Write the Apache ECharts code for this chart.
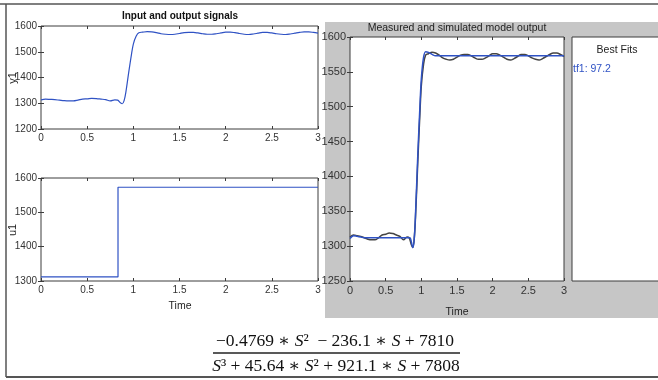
<!DOCTYPE html>
<html>
<head>
<meta charset="utf-8">
<script src="https://cdn.jsdelivr.net/npm/echarts@6/dist/echarts.min.js"></script>
<style>
    html, body { margin: 0; padding: 0; background: #fff; }
    #chart { width: 658px; height: 380px; }
</style>
</head>
<body>
<div id="chart"></div>
<script>
// measured output y1 (same record in both panels)
const measTime = [0, 0.05, 0.1, 0.15, 0.2, 0.25, 0.3, 0.35, 0.4, 0.45, 0.5, 0.55, 0.6, 0.65, 0.7, 0.75, 0.8, 0.83, 0.86, 0.88,
    0.9, 0.92, 0.95, 0.98, 1.0, 1.03, 1.06, 1.1, 1.15, 1.2, 1.25, 1.3, 1.35, 1.4, 1.45, 1.5, 1.55, 1.6, 1.65, 1.7,
    1.75, 1.8, 1.85, 1.9, 1.95, 2.0, 2.05, 2.1, 2.15, 2.2, 2.25, 2.3, 2.35, 2.4, 2.45, 2.5, 2.55, 2.6, 2.65, 2.7,
    2.75, 2.8, 2.85, 2.9, 2.95, 3.0];
const measValues = [1313, 1316, 1315, 1314, 1312, 1310, 1309, 1309, 1312, 1316, 1317, 1319, 1318, 1316, 1314, 1309, 1313, 1312, 1302, 1298,
    1310, 1345, 1420, 1490, 1530, 1560, 1574, 1576, 1578, 1577, 1574, 1570, 1568, 1567, 1568, 1571, 1574, 1575, 1575, 1573,
    1570, 1568, 1568, 1570, 1573, 1576, 1576, 1574, 1571, 1568, 1567, 1569, 1572, 1575, 1575, 1573, 1570, 1568, 1567, 1569,
    1572, 1575, 1577, 1577, 1575, 1572];

// simulated model output tf1
const simTime = [0, 0.05, 0.1, 0.15, 0.2, 0.4, 0.6, 0.8, 0.84, 0.86, 0.88, 0.9, 0.92, 0.95, 0.98, 1.0, 1.03, 1.06, 1.1, 1.15, 1.2, 1.3, 2.0, 3.0];
const simValues = [1311, 1315, 1314, 1313, 1312, 1312, 1312, 1312, 1312, 1306, 1298, 1310, 1350, 1430, 1500, 1540, 1570, 1579, 1578, 1575, 1573, 1573, 1573, 1573];

// input u1 (step)
const inTime = [0, 0.834, 3];
const inValues = [1312, 1573, 1573];

const fitLabel = 'tf1: 97.2';
const numerText = ['−0.4769 ∗ ', 'S', '²  − 236.1 ∗ ', 'S', ' + 7810'];
const denomText = ['S', '³ + 45.64 ∗ ', 'S', '² + 921.1 ∗ ', 'S', ' + 7808'];

const FONT = '"Liberation Sans Narrow", "Liberation Sans", Arial, sans-serif';
const BLUE = '#2f52c4';
const AXIS = '#3c3c3c';

function pairs(xs, ys) {
    return xs.map((x, i) => [x, ys[i]]);
}

// one MATLAB-like box: bottom/left labelled, top/right ticks only
function boxAxes(gi, yMin, yMax, yStep, fs) {
    const tick = {show: true, inside: true, length: 3, lineStyle: {color: AXIS}};
    const lbl = {color: '#333', fontSize: fs, fontFamily: FONT, margin: 4, formatter: v => String(v)};
    const x = {type: 'value', gridIndex: gi, min: 0, max: 3, interval: 0.5, splitLine: {show: false},
        axisLine: {show: false}, axisTick: tick};
    const y = {type: 'value', gridIndex: gi, min: yMin, max: yMax, interval: yStep, splitLine: {show: false},
        axisLine: {show: false}, axisTick: tick};
    return {
        x: [Object.assign({}, x, {position: 'bottom', axisLabel: lbl}),
            Object.assign({}, x, {position: 'top', axisLabel: {show: false}})],
        y: [Object.assign({}, y, {position: 'left', axisLabel: lbl}),
            Object.assign({}, y, {position: 'right', axisLabel: {show: false}})]
    };
}

const grids = [
    {left: 41, top: 26, width: 277, height: 103},
    {left: 41, top: 178, width: 277, height: 103},
    {left: 350, top: 37, width: 214, height: 244}
].map(g => Object.assign(g, {show: true, backgroundColor: '#fff', borderColor: AXIS, borderWidth: 1}));

const boxes = [boxAxes(0, 1200, 1600, 100, 10), boxAxes(1, 1300, 1600, 100, 10), boxAxes(2, 1250, 1600, 50, 11)];
const xAxes = [], yAxes = [];
boxes.forEach(b => { xAxes.push(...b.x); yAxes.push(...b.y); });

function lineSeries(gi, data, color, width, step) {
    return {
        type: 'line', xAxisIndex: gi * 2, yAxisIndex: gi * 2, data: data,
        showSymbol: false, smooth: step ? false : 0.35, step: step || false,
        lineStyle: {color: color, width: width}, animation: false
    };
}

const series = [
    lineSeries(0, pairs(measTime, measValues), BLUE, 1.2),
    lineSeries(1, pairs(inTime, inValues), BLUE, 1.2, 'end'),
    lineSeries(2, pairs(measTime, measValues), '#444', 1.5),
    lineSeries(2, pairs(simTime, simValues), BLUE, 1.5)
];

function txt(x, y, text, opts, rot) {
    return {type: 'text', x: x, y: y, z: 10, rotation: rot || 0, style: Object.assign({
        text: text, fill: '#222', font: '11px ' + FONT, align: 'center', verticalAlign: 'middle'
    }, opts || {})};
}

const serif = '"Liberation Serif", "DejaVu Serif", serif';
const rich = {
    n: {fontFamily: serif, fontSize: 17.5, fill: '#111'},
    s: {fontFamily: serif, fontSize: 17.5, fontStyle: 'italic', fill: '#111'}
};
function eqText(parts, firstStyle) {
    return parts.map((p, i) => '{' + ((i % 2 === 0) === (firstStyle === 'n') ? 'n' : 's') + '|' + p + '}').join('');
}

const graphic = [
    // grey ident panel behind right plot
    {type: 'rect', z: -10, shape: {x: 325, y: 22, width: 333, height: 296}, style: {fill: '#c6c6c6'}},
    {type: 'rect', z: 1, shape: {x: 572, y: 37, width: 92, height: 244}, style: {fill: '#fff', stroke: AXIS, lineWidth: 1}},
    // outer frame
    {type: 'line', z: 10, shape: {x1: 0, y1: 4, x2: 658, y2: 4}, style: {stroke: '#555', lineWidth: 1.5}},
    {type: 'line', z: 10, shape: {x1: 6, y1: 4, x2: 6, y2: 377}, style: {stroke: '#555', lineWidth: 1.5}},
    {type: 'line', z: 10, shape: {x1: 6, y1: 377, x2: 658, y2: 377}, style: {stroke: '#555', lineWidth: 2}},
    txt(180, 16, 'Input and output signals', {font: 'bold 10px ' + FONT, fill: '#111'}),
    txt(457, 28, 'Measured and simulated model output', {font: '10.5px ' + FONT}),
    txt(13, 78, 'y1', null, Math.PI / 2),
    txt(13, 230, 'u1', null, Math.PI / 2),
    txt(180, 306, 'Time', {font: '10.5px ' + FONT}),
    txt(457, 312, 'Time', {font: '10.5px ' + FONT}),
    txt(617, 50, 'Best Fits', {font: '10.5px ' + FONT}),
    txt(573, 69, fitLabel, {align: 'left', fill: BLUE, font: '10.5px ' + FONT}),
    // transfer function
    {type: 'text', z: 10, x: 335, y: 341, style: {text: eqText(numerText, 'n'), rich: rich, align: 'center', verticalAlign: 'middle'}},
    {type: 'line', z: 10, shape: {x1: 213, y1: 353, x2: 460, y2: 353}, style: {stroke: '#222', lineWidth: 1.5}},
    {type: 'text', z: 10, x: 336, y: 366, style: {text: eqText(denomText, 's'), rich: rich, align: 'center', verticalAlign: 'middle'}}
];

const myChart = echarts.init(document.getElementById('chart'), null, {renderer: 'canvas'});
myChart.setOption({
    animation: false,
    grid: grids,
    xAxis: xAxes,
    yAxis: yAxes,
    series: series,
    graphic: graphic
});
</script>
</body>
</html>
